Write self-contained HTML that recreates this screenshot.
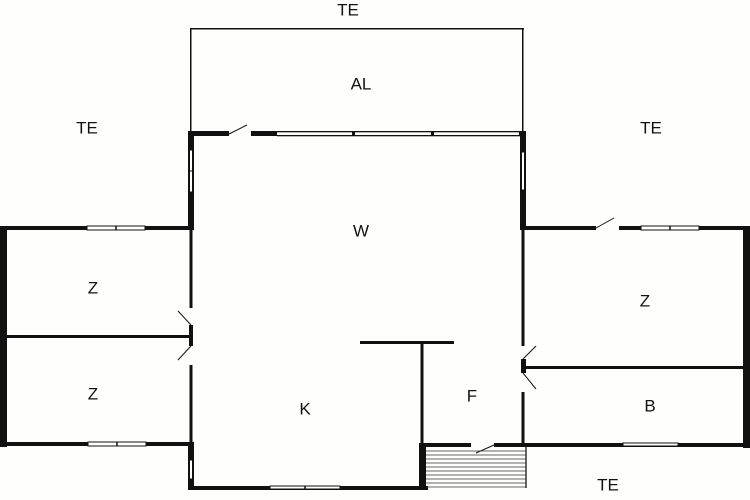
<!DOCTYPE html>
<html><head><style>
html,body{margin:0;padding:0;background:#fff}
svg{display:block}
text{font-family:"Liberation Sans",sans-serif;font-size:17px;fill:#111;text-anchor:middle;dominant-baseline:central}
</style></head><body>
<svg width="750" height="500" viewBox="0 0 750 500" xmlns="http://www.w3.org/2000/svg">
<rect width="750" height="500" fill="#fefefc"/>
<g fill="#111">
<!-- AL thin box -->
<rect x="190" y="28" width="334" height="1.5"/>
<rect x="190" y="28" width="1.5" height="104"/>
<rect x="522" y="28" width="1.5" height="104"/>
<!-- top wall of W -->
<rect x="188" y="131" width="41" height="5"/>
<rect x="251" y="131" width="26" height="5"/>
<rect x="277" y="131" width="247" height="1.3"/>
<rect x="277" y="135" width="247" height="1.3"/>
<rect x="352" y="131" width="3" height="5"/>
<rect x="431" y="131" width="3" height="5"/>
<rect x="519" y="131" width="7" height="5"/>
<!-- left wall W upper -->
<rect x="188" y="131" width="6" height="99"/>
<rect x="189.5" y="150" width="3" height="42" fill="#fff" stroke="#111" stroke-width="1"/>
<line x1="189" y1="171" x2="193" y2="171" stroke="#111" stroke-width="1"/>
<!-- right wall W upper -->
<rect x="520" y="131" width="6" height="99"/>
<rect x="521.5" y="152" width="3" height="38" fill="#fff" stroke="#111" stroke-width="1"/>
<!-- left wing -->
<rect x="0" y="226" width="194" height="4"/>
<rect x="87" y="226" width="58" height="4" fill="#fff" stroke="#111" stroke-width="1"/>
<line x1="116" y1="226" x2="116" y2="230" stroke="#111" stroke-width="1.5"/>
<rect x="0" y="226" width="7" height="221"/>
<rect x="0" y="442" width="194" height="4"/>
<rect x="88" y="442" width="58" height="4" fill="#fff" stroke="#111" stroke-width="1"/>
<line x1="117" y1="442" x2="117" y2="446" stroke="#111" stroke-width="1.5"/>
<rect x="6" y="335" width="186" height="3"/>
<!-- W left wall lower -->
<rect x="189.5" y="228" width="3" height="80"/>
<rect x="189" y="325" width="4" height="21"/>
<rect x="189.5" y="365" width="3" height="80"/>
<rect x="188" y="444" width="6" height="46"/>
<rect x="189.5" y="460" width="3" height="19" fill="#fff" stroke="#111" stroke-width="1"/>
<!-- bottom wall K -->
<rect x="188" y="486" width="240" height="4"/>
<rect x="270" y="486" width="70" height="3" fill="#fff" stroke="#111" stroke-width="1"/>
<line x1="305" y1="486" x2="305" y2="489" stroke="#111" stroke-width="1.5"/>
<!-- partition -->
<rect x="360" y="341" width="94" height="3"/>
<rect x="420.5" y="341" width="3" height="105"/>
<rect x="419" y="443" width="7" height="47"/>
<!-- F bottom -->
<rect x="419" y="443" width="52" height="4"/>
<rect x="494" y="443" width="32" height="4"/>
<!-- W right wall lower -->
<rect x="521.5" y="228" width="3" height="118"/>
<rect x="521" y="359" width="5" height="14"/>
<rect x="521.5" y="392" width="3" height="54"/>
<!-- right wing -->
<rect x="522" y="226" width="74" height="4"/>
<rect x="619" y="226" width="131" height="4"/>
<rect x="641" y="226" width="58" height="4" fill="#fff" stroke="#111" stroke-width="1"/>
<line x1="670" y1="226" x2="670" y2="230" stroke="#111" stroke-width="1.5"/>
<rect x="743" y="226" width="7" height="222"/>
<rect x="522" y="443" width="228" height="4"/>
<rect x="623" y="443" width="55" height="3" fill="#fff" stroke="#111" stroke-width="1"/>
<rect x="525" y="366" width="220" height="3"/>
</g>
<!-- door leaves -->
<g stroke="#111" stroke-width="1" fill="none">
<line x1="229" y1="134" x2="247" y2="125"/>
<line x1="596" y1="228" x2="614" y2="218"/>
<line x1="191" y1="325" x2="178" y2="311"/>
<line x1="191" y1="346" x2="178" y2="360"/>
<line x1="523" y1="359" x2="536" y2="346"/>
<line x1="523" y1="373" x2="536" y2="389"/>
<line x1="494" y1="445" x2="476" y2="453"/>
</g>
<!-- stairs -->
<g stroke="#333" stroke-width="0.8">
<line x1="426" y1="451" x2="526" y2="451"/>
<line x1="426" y1="455" x2="526" y2="455"/>
<line x1="426" y1="459" x2="526" y2="459"/>
<line x1="426" y1="463" x2="526" y2="463"/>
<line x1="426" y1="467" x2="526" y2="467"/>
<line x1="426" y1="471" x2="526" y2="471"/>
<line x1="426" y1="475" x2="526" y2="475"/>
<line x1="426" y1="479" x2="526" y2="479"/>
<line x1="426" y1="483" x2="526" y2="483"/>
<line x1="426" y1="487" x2="526" y2="487"/>
<line x1="526" y1="447" x2="526" y2="488" stroke-width="1.5"/>
</g>
<text x="348" y="10">TE</text>
<text x="87" y="128">TE</text>
<text x="651" y="128">TE</text>
<text x="361" y="84">AL</text>
<text x="361" y="231">W</text>
<text x="93" y="288">Z</text>
<text x="93" y="394">Z</text>
<text x="645" y="301">Z</text>
<text x="305" y="409">K</text>
<text x="472" y="396">F</text>
<text x="650" y="406">B</text>
<text x="608" y="485">TE</text>
</svg>
</body></html>
